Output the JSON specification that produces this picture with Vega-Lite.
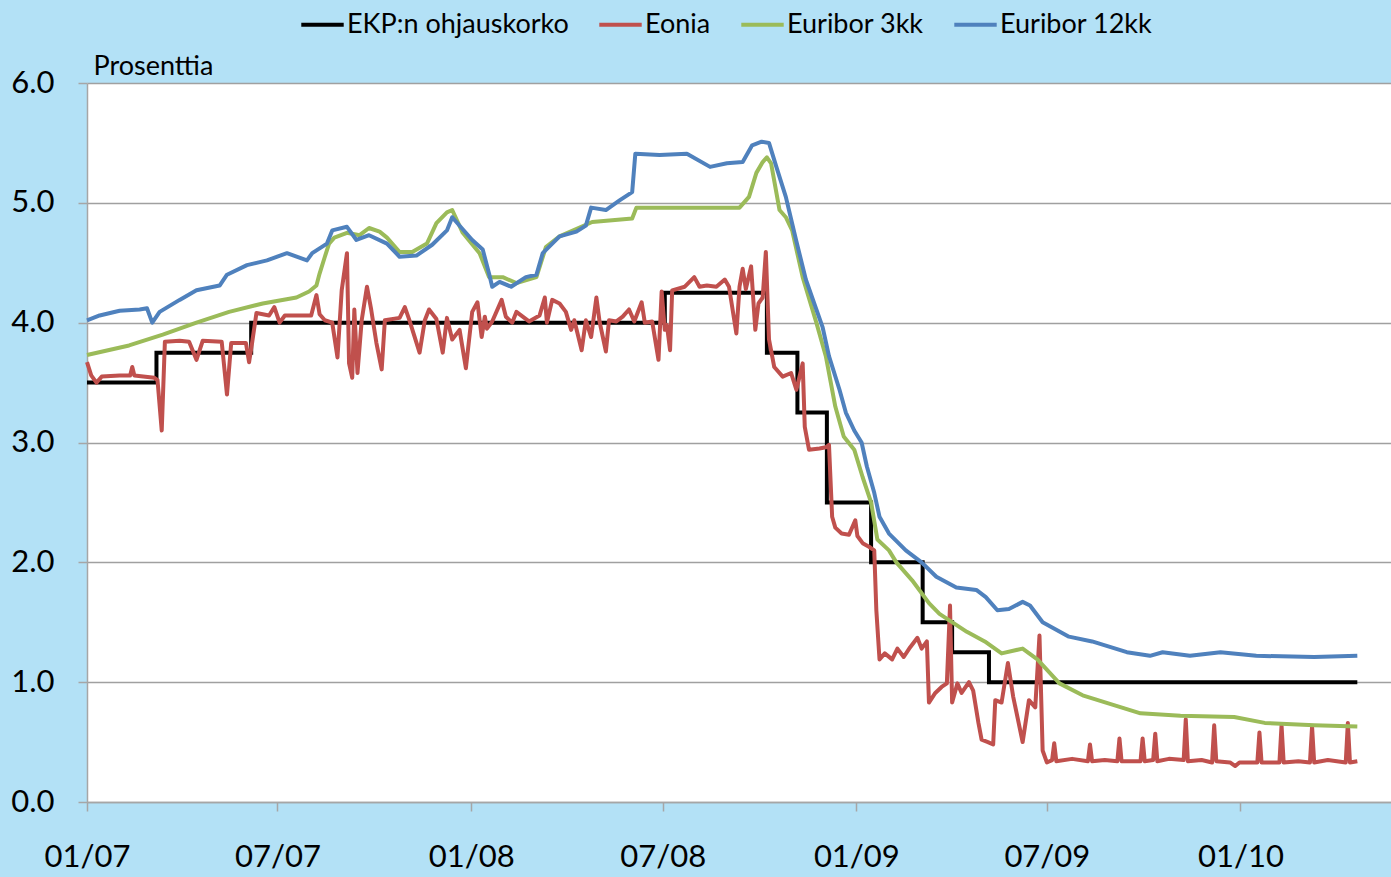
{
  "$schema": "https://vega.github.io/schema/vega-lite/v6.json",
  "width": 1304,
  "height": 719,
  "autosize": {"type": "none"},
  "padding": {"left": 87, "top": 83, "right": 0, "bottom": 75},
  "background": "#b3e1f6",
  "config": {
    "view": {"fill": "white", "stroke": null},
    "font": "Lato"
  },
  "datasets": {
    "rates": [
      {"d": "2007-01-01", "s": "EKP:n ohjauskorko", "v": 3.50},
      {"d": "2007-03-08", "s": "EKP:n ohjauskorko", "v": 3.75},
      {"d": "2007-06-06", "s": "EKP:n ohjauskorko", "v": 4.00},
      {"d": "2008-07-03", "s": "EKP:n ohjauskorko", "v": 4.25},
      {"d": "2008-10-08", "s": "EKP:n ohjauskorko", "v": 3.75},
      {"d": "2008-11-06", "s": "EKP:n ohjauskorko", "v": 3.25},
      {"d": "2008-12-04", "s": "EKP:n ohjauskorko", "v": 2.50},
      {"d": "2009-01-15", "s": "EKP:n ohjauskorko", "v": 2.00},
      {"d": "2009-03-05", "s": "EKP:n ohjauskorko", "v": 1.50},
      {"d": "2009-04-02", "s": "EKP:n ohjauskorko", "v": 1.25},
      {"d": "2009-05-07", "s": "EKP:n ohjauskorko", "v": 1.00},
      {"d": "2010-04-22", "s": "EKP:n ohjauskorko", "v": 1.00},

      {"d": "2007-01-01", "s": "Eonia", "v": 3.67},
      {"d": "2007-01-05", "s": "Eonia", "v": 3.56},
      {"d": "2007-01-10", "s": "Eonia", "v": 3.50},
      {"d": "2007-01-15", "s": "Eonia", "v": 3.55},
      {"d": "2007-02-01", "s": "Eonia", "v": 3.56},
      {"d": "2007-02-11", "s": "Eonia", "v": 3.56},
      {"d": "2007-02-13", "s": "Eonia", "v": 3.63},
      {"d": "2007-02-15", "s": "Eonia", "v": 3.56},
      {"d": "2007-03-06", "s": "Eonia", "v": 3.54},
      {"d": "2007-03-09", "s": "Eonia", "v": 3.52},
      {"d": "2007-03-13", "s": "Eonia", "v": 3.10},
      {"d": "2007-03-16", "s": "Eonia", "v": 3.84},
      {"d": "2007-03-30", "s": "Eonia", "v": 3.85},
      {"d": "2007-04-08", "s": "Eonia", "v": 3.84},
      {"d": "2007-04-15", "s": "Eonia", "v": 3.69},
      {"d": "2007-04-21", "s": "Eonia", "v": 3.85},
      {"d": "2007-05-09", "s": "Eonia", "v": 3.84},
      {"d": "2007-05-14", "s": "Eonia", "v": 3.40},
      {"d": "2007-05-18", "s": "Eonia", "v": 3.83},
      {"d": "2007-06-01", "s": "Eonia", "v": 3.83},
      {"d": "2007-06-04", "s": "Eonia", "v": 3.67},
      {"d": "2007-06-07", "s": "Eonia", "v": 3.84},
      {"d": "2007-06-11", "s": "Eonia", "v": 4.08},
      {"d": "2007-06-23", "s": "Eonia", "v": 4.06},
      {"d": "2007-06-28", "s": "Eonia", "v": 4.13},
      {"d": "2007-07-03", "s": "Eonia", "v": 4.00},
      {"d": "2007-07-08", "s": "Eonia", "v": 4.06},
      {"d": "2007-08-02", "s": "Eonia", "v": 4.06},
      {"d": "2007-08-07", "s": "Eonia", "v": 4.23},
      {"d": "2007-08-10", "s": "Eonia", "v": 4.07},
      {"d": "2007-08-15", "s": "Eonia", "v": 4.02},
      {"d": "2007-08-22", "s": "Eonia", "v": 4.00},
      {"d": "2007-08-27", "s": "Eonia", "v": 3.71},
      {"d": "2007-08-31", "s": "Eonia", "v": 4.27},
      {"d": "2007-09-05", "s": "Eonia", "v": 4.58},
      {"d": "2007-09-07", "s": "Eonia", "v": 3.66},
      {"d": "2007-09-10", "s": "Eonia", "v": 3.54},
      {"d": "2007-09-12", "s": "Eonia", "v": 4.11},
      {"d": "2007-09-15", "s": "Eonia", "v": 3.58},
      {"d": "2007-09-19", "s": "Eonia", "v": 4.02},
      {"d": "2007-09-24", "s": "Eonia", "v": 4.30},
      {"d": "2007-09-28", "s": "Eonia", "v": 4.11},
      {"d": "2007-10-03", "s": "Eonia", "v": 3.83},
      {"d": "2007-10-08", "s": "Eonia", "v": 3.61},
      {"d": "2007-10-11", "s": "Eonia", "v": 4.02},
      {"d": "2007-10-25", "s": "Eonia", "v": 4.04},
      {"d": "2007-10-30", "s": "Eonia", "v": 4.13},
      {"d": "2007-11-03", "s": "Eonia", "v": 4.03},
      {"d": "2007-11-13", "s": "Eonia", "v": 3.75},
      {"d": "2007-11-18", "s": "Eonia", "v": 4.02},
      {"d": "2007-11-22", "s": "Eonia", "v": 4.11},
      {"d": "2007-11-29", "s": "Eonia", "v": 4.03},
      {"d": "2007-12-05", "s": "Eonia", "v": 3.75},
      {"d": "2007-12-09", "s": "Eonia", "v": 4.04},
      {"d": "2007-12-14", "s": "Eonia", "v": 3.86},
      {"d": "2007-12-21", "s": "Eonia", "v": 3.94},
      {"d": "2007-12-27", "s": "Eonia", "v": 3.62},
      {"d": "2008-01-02", "s": "Eonia", "v": 4.09},
      {"d": "2008-01-07", "s": "Eonia", "v": 4.17},
      {"d": "2008-01-11", "s": "Eonia", "v": 3.88},
      {"d": "2008-01-14", "s": "Eonia", "v": 4.05},
      {"d": "2008-01-16", "s": "Eonia", "v": 3.95},
      {"d": "2008-01-21", "s": "Eonia", "v": 4.01},
      {"d": "2008-01-30", "s": "Eonia", "v": 4.19},
      {"d": "2008-02-03", "s": "Eonia", "v": 4.05},
      {"d": "2008-02-09", "s": "Eonia", "v": 4.00},
      {"d": "2008-02-13", "s": "Eonia", "v": 4.09},
      {"d": "2008-02-25", "s": "Eonia", "v": 4.01},
      {"d": "2008-03-06", "s": "Eonia", "v": 4.06},
      {"d": "2008-03-11", "s": "Eonia", "v": 4.21},
      {"d": "2008-03-13", "s": "Eonia", "v": 4.00},
      {"d": "2008-03-18", "s": "Eonia", "v": 4.19},
      {"d": "2008-03-25", "s": "Eonia", "v": 4.16},
      {"d": "2008-03-31", "s": "Eonia", "v": 4.09},
      {"d": "2008-04-05", "s": "Eonia", "v": 3.94},
      {"d": "2008-04-08", "s": "Eonia", "v": 4.02},
      {"d": "2008-04-15", "s": "Eonia", "v": 3.77},
      {"d": "2008-04-19", "s": "Eonia", "v": 4.02},
      {"d": "2008-04-24", "s": "Eonia", "v": 3.88},
      {"d": "2008-04-29", "s": "Eonia", "v": 4.21},
      {"d": "2008-05-02", "s": "Eonia", "v": 4.01},
      {"d": "2008-05-08", "s": "Eonia", "v": 3.76},
      {"d": "2008-05-11", "s": "Eonia", "v": 4.02},
      {"d": "2008-05-18", "s": "Eonia", "v": 4.01},
      {"d": "2008-05-24", "s": "Eonia", "v": 4.05},
      {"d": "2008-05-30", "s": "Eonia", "v": 4.11},
      {"d": "2008-06-04", "s": "Eonia", "v": 4.01},
      {"d": "2008-06-11", "s": "Eonia", "v": 4.17},
      {"d": "2008-06-14", "s": "Eonia", "v": 4.00},
      {"d": "2008-06-21", "s": "Eonia", "v": 4.01},
      {"d": "2008-06-27", "s": "Eonia", "v": 3.69},
      {"d": "2008-06-30", "s": "Eonia", "v": 4.26},
      {"d": "2008-07-03", "s": "Eonia", "v": 3.94},
      {"d": "2008-07-05", "s": "Eonia", "v": 3.98},
      {"d": "2008-07-08", "s": "Eonia", "v": 3.77},
      {"d": "2008-07-10", "s": "Eonia", "v": 4.27},
      {"d": "2008-07-22", "s": "Eonia", "v": 4.30},
      {"d": "2008-07-31", "s": "Eonia", "v": 4.38},
      {"d": "2008-08-05", "s": "Eonia", "v": 4.30},
      {"d": "2008-08-12", "s": "Eonia", "v": 4.31},
      {"d": "2008-08-21", "s": "Eonia", "v": 4.30},
      {"d": "2008-08-29", "s": "Eonia", "v": 4.36},
      {"d": "2008-09-02", "s": "Eonia", "v": 4.30},
      {"d": "2008-09-09", "s": "Eonia", "v": 3.91},
      {"d": "2008-09-12", "s": "Eonia", "v": 4.30},
      {"d": "2008-09-15", "s": "Eonia", "v": 4.45},
      {"d": "2008-09-18", "s": "Eonia", "v": 4.28},
      {"d": "2008-09-23", "s": "Eonia", "v": 4.47},
      {"d": "2008-09-27", "s": "Eonia", "v": 3.94},
      {"d": "2008-09-30", "s": "Eonia", "v": 4.16},
      {"d": "2008-10-04", "s": "Eonia", "v": 4.21},
      {"d": "2008-10-07", "s": "Eonia", "v": 4.59},
      {"d": "2008-10-10", "s": "Eonia", "v": 3.86},
      {"d": "2008-10-15", "s": "Eonia", "v": 3.63},
      {"d": "2008-10-23", "s": "Eonia", "v": 3.55},
      {"d": "2008-10-31", "s": "Eonia", "v": 3.58},
      {"d": "2008-11-05", "s": "Eonia", "v": 3.44},
      {"d": "2008-11-11", "s": "Eonia", "v": 3.66},
      {"d": "2008-11-13", "s": "Eonia", "v": 3.13},
      {"d": "2008-11-17", "s": "Eonia", "v": 2.94},
      {"d": "2008-11-27", "s": "Eonia", "v": 2.95},
      {"d": "2008-12-03", "s": "Eonia", "v": 2.96},
      {"d": "2008-12-06", "s": "Eonia", "v": 2.98},
      {"d": "2008-12-09", "s": "Eonia", "v": 2.38},
      {"d": "2008-12-12", "s": "Eonia", "v": 2.29},
      {"d": "2008-12-18", "s": "Eonia", "v": 2.24},
      {"d": "2008-12-25", "s": "Eonia", "v": 2.23},
      {"d": "2008-12-31", "s": "Eonia", "v": 2.35},
      {"d": "2009-01-02", "s": "Eonia", "v": 2.22},
      {"d": "2009-01-07", "s": "Eonia", "v": 2.16},
      {"d": "2009-01-13", "s": "Eonia", "v": 2.13},
      {"d": "2009-01-18", "s": "Eonia", "v": 2.10},
      {"d": "2009-01-20", "s": "Eonia", "v": 1.60},
      {"d": "2009-01-23", "s": "Eonia", "v": 1.19},
      {"d": "2009-01-28", "s": "Eonia", "v": 1.24},
      {"d": "2009-02-04", "s": "Eonia", "v": 1.19},
      {"d": "2009-02-09", "s": "Eonia", "v": 1.28},
      {"d": "2009-02-15", "s": "Eonia", "v": 1.21},
      {"d": "2009-02-21", "s": "Eonia", "v": 1.29},
      {"d": "2009-02-28", "s": "Eonia", "v": 1.37},
      {"d": "2009-03-04", "s": "Eonia", "v": 1.28},
      {"d": "2009-03-09", "s": "Eonia", "v": 1.34},
      {"d": "2009-03-11", "s": "Eonia", "v": 0.83},
      {"d": "2009-03-17", "s": "Eonia", "v": 0.91},
      {"d": "2009-03-23", "s": "Eonia", "v": 0.96},
      {"d": "2009-03-28", "s": "Eonia", "v": 0.99},
      {"d": "2009-03-31", "s": "Eonia", "v": 1.64},
      {"d": "2009-04-02", "s": "Eonia", "v": 0.83},
      {"d": "2009-04-07", "s": "Eonia", "v": 0.99},
      {"d": "2009-04-11", "s": "Eonia", "v": 0.91},
      {"d": "2009-04-18", "s": "Eonia", "v": 1.00},
      {"d": "2009-04-22", "s": "Eonia", "v": 0.93},
      {"d": "2009-04-27", "s": "Eonia", "v": 0.66},
      {"d": "2009-04-30", "s": "Eonia", "v": 0.52},
      {"d": "2009-05-06", "s": "Eonia", "v": 0.50},
      {"d": "2009-05-11", "s": "Eonia", "v": 0.48},
      {"d": "2009-05-13", "s": "Eonia", "v": 0.85},
      {"d": "2009-05-19", "s": "Eonia", "v": 0.83},
      {"d": "2009-05-25", "s": "Eonia", "v": 1.16},
      {"d": "2009-05-30", "s": "Eonia", "v": 0.88},
      {"d": "2009-06-08", "s": "Eonia", "v": 0.50},
      {"d": "2009-06-14", "s": "Eonia", "v": 0.85},
      {"d": "2009-06-20", "s": "Eonia", "v": 0.79},
      {"d": "2009-06-24", "s": "Eonia", "v": 1.39},
      {"d": "2009-06-27", "s": "Eonia", "v": 0.43},
      {"d": "2009-07-01", "s": "Eonia", "v": 0.33},
      {"d": "2009-07-06", "s": "Eonia", "v": 0.35},
      {"d": "2009-07-08", "s": "Eonia", "v": 0.49},
      {"d": "2009-07-10", "s": "Eonia", "v": 0.34},
      {"d": "2009-07-25", "s": "Eonia", "v": 0.36},
      {"d": "2009-08-09", "s": "Eonia", "v": 0.34},
      {"d": "2009-08-11", "s": "Eonia", "v": 0.48},
      {"d": "2009-08-13", "s": "Eonia", "v": 0.34},
      {"d": "2009-08-25", "s": "Eonia", "v": 0.35},
      {"d": "2009-09-06", "s": "Eonia", "v": 0.34},
      {"d": "2009-09-08", "s": "Eonia", "v": 0.53},
      {"d": "2009-09-10", "s": "Eonia", "v": 0.34},
      {"d": "2009-09-28", "s": "Eonia", "v": 0.34},
      {"d": "2009-09-30", "s": "Eonia", "v": 0.53},
      {"d": "2009-10-02", "s": "Eonia", "v": 0.34},
      {"d": "2009-10-10", "s": "Eonia", "v": 0.35},
      {"d": "2009-10-12", "s": "Eonia", "v": 0.57},
      {"d": "2009-10-14", "s": "Eonia", "v": 0.34},
      {"d": "2009-10-25", "s": "Eonia", "v": 0.36},
      {"d": "2009-11-08", "s": "Eonia", "v": 0.35},
      {"d": "2009-11-10", "s": "Eonia", "v": 0.69},
      {"d": "2009-11-12", "s": "Eonia", "v": 0.34},
      {"d": "2009-11-25", "s": "Eonia", "v": 0.35},
      {"d": "2009-12-05", "s": "Eonia", "v": 0.33},
      {"d": "2009-12-07", "s": "Eonia", "v": 0.64},
      {"d": "2009-12-09", "s": "Eonia", "v": 0.34},
      {"d": "2009-12-22", "s": "Eonia", "v": 0.33},
      {"d": "2009-12-27", "s": "Eonia", "v": 0.30},
      {"d": "2009-12-31", "s": "Eonia", "v": 0.33},
      {"d": "2010-01-17", "s": "Eonia", "v": 0.33},
      {"d": "2010-01-19", "s": "Eonia", "v": 0.58},
      {"d": "2010-01-21", "s": "Eonia", "v": 0.33},
      {"d": "2010-02-07", "s": "Eonia", "v": 0.33},
      {"d": "2010-02-09", "s": "Eonia", "v": 0.64},
      {"d": "2010-02-11", "s": "Eonia", "v": 0.33},
      {"d": "2010-02-25", "s": "Eonia", "v": 0.34},
      {"d": "2010-03-08", "s": "Eonia", "v": 0.33},
      {"d": "2010-03-10", "s": "Eonia", "v": 0.63},
      {"d": "2010-03-12", "s": "Eonia", "v": 0.33},
      {"d": "2010-03-25", "s": "Eonia", "v": 0.35},
      {"d": "2010-04-11", "s": "Eonia", "v": 0.33},
      {"d": "2010-04-13", "s": "Eonia", "v": 0.66},
      {"d": "2010-04-15", "s": "Eonia", "v": 0.33},
      {"d": "2010-04-22", "s": "Eonia", "v": 0.34},

      {"d": "2007-01-01", "s": "Euribor 3kk", "v": 3.73},
      {"d": "2007-02-10", "s": "Euribor 3kk", "v": 3.81},
      {"d": "2007-03-14", "s": "Euribor 3kk", "v": 3.90},
      {"d": "2007-04-15", "s": "Euribor 3kk", "v": 4.00},
      {"d": "2007-05-16", "s": "Euribor 3kk", "v": 4.09},
      {"d": "2007-06-17", "s": "Euribor 3kk", "v": 4.16},
      {"d": "2007-07-19", "s": "Euribor 3kk", "v": 4.21},
      {"d": "2007-07-31", "s": "Euribor 3kk", "v": 4.26},
      {"d": "2007-08-07", "s": "Euribor 3kk", "v": 4.31},
      {"d": "2007-08-10", "s": "Euribor 3kk", "v": 4.41},
      {"d": "2007-08-15", "s": "Euribor 3kk", "v": 4.55},
      {"d": "2007-08-19", "s": "Euribor 3kk", "v": 4.66},
      {"d": "2007-08-24", "s": "Euribor 3kk", "v": 4.71},
      {"d": "2007-09-05", "s": "Euribor 3kk", "v": 4.75},
      {"d": "2007-09-17", "s": "Euribor 3kk", "v": 4.73},
      {"d": "2007-09-26", "s": "Euribor 3kk", "v": 4.79},
      {"d": "2007-10-06", "s": "Euribor 3kk", "v": 4.76},
      {"d": "2007-10-13", "s": "Euribor 3kk", "v": 4.71},
      {"d": "2007-10-25", "s": "Euribor 3kk", "v": 4.59},
      {"d": "2007-11-06", "s": "Euribor 3kk", "v": 4.59},
      {"d": "2007-11-20", "s": "Euribor 3kk", "v": 4.66},
      {"d": "2007-11-29", "s": "Euribor 3kk", "v": 4.83},
      {"d": "2007-12-09", "s": "Euribor 3kk", "v": 4.92},
      {"d": "2007-12-14", "s": "Euribor 3kk", "v": 4.94},
      {"d": "2007-12-24", "s": "Euribor 3kk", "v": 4.75},
      {"d": "2008-01-09", "s": "Euribor 3kk", "v": 4.58},
      {"d": "2008-01-18", "s": "Euribor 3kk", "v": 4.38},
      {"d": "2008-01-31", "s": "Euribor 3kk", "v": 4.38},
      {"d": "2008-02-13", "s": "Euribor 3kk", "v": 4.33},
      {"d": "2008-03-03", "s": "Euribor 3kk", "v": 4.38},
      {"d": "2008-03-12", "s": "Euribor 3kk", "v": 4.63},
      {"d": "2008-03-25", "s": "Euribor 3kk", "v": 4.72},
      {"d": "2008-04-25", "s": "Euribor 3kk", "v": 4.84},
      {"d": "2008-06-02", "s": "Euribor 3kk", "v": 4.87},
      {"d": "2008-06-06", "s": "Euribor 3kk", "v": 4.96},
      {"d": "2008-07-29", "s": "Euribor 3kk", "v": 4.96},
      {"d": "2008-09-12", "s": "Euribor 3kk", "v": 4.96},
      {"d": "2008-09-21", "s": "Euribor 3kk", "v": 5.05},
      {"d": "2008-09-28", "s": "Euribor 3kk", "v": 5.25},
      {"d": "2008-10-04", "s": "Euribor 3kk", "v": 5.34},
      {"d": "2008-10-08", "s": "Euribor 3kk", "v": 5.38},
      {"d": "2008-10-12", "s": "Euribor 3kk", "v": 5.33},
      {"d": "2008-10-20", "s": "Euribor 3kk", "v": 4.94},
      {"d": "2008-10-26", "s": "Euribor 3kk", "v": 4.88},
      {"d": "2008-11-01", "s": "Euribor 3kk", "v": 4.77},
      {"d": "2008-11-11", "s": "Euribor 3kk", "v": 4.38},
      {"d": "2008-11-24", "s": "Euribor 3kk", "v": 4.00},
      {"d": "2008-12-03", "s": "Euribor 3kk", "v": 3.72},
      {"d": "2008-12-12", "s": "Euribor 3kk", "v": 3.30},
      {"d": "2008-12-20", "s": "Euribor 3kk", "v": 3.05},
      {"d": "2008-12-30", "s": "Euribor 3kk", "v": 2.94},
      {"d": "2009-01-07", "s": "Euribor 3kk", "v": 2.71},
      {"d": "2009-01-15", "s": "Euribor 3kk", "v": 2.50},
      {"d": "2009-01-21", "s": "Euribor 3kk", "v": 2.19},
      {"d": "2009-02-01", "s": "Euribor 3kk", "v": 2.10},
      {"d": "2009-02-08", "s": "Euribor 3kk", "v": 2.00},
      {"d": "2009-02-23", "s": "Euribor 3kk", "v": 1.85},
      {"d": "2009-03-11", "s": "Euribor 3kk", "v": 1.66},
      {"d": "2009-03-21", "s": "Euribor 3kk", "v": 1.57},
      {"d": "2009-04-16", "s": "Euribor 3kk", "v": 1.42},
      {"d": "2009-05-03", "s": "Euribor 3kk", "v": 1.34},
      {"d": "2009-05-19", "s": "Euribor 3kk", "v": 1.24},
      {"d": "2009-06-08", "s": "Euribor 3kk", "v": 1.28},
      {"d": "2009-06-22", "s": "Euribor 3kk", "v": 1.19},
      {"d": "2009-07-13", "s": "Euribor 3kk", "v": 0.99},
      {"d": "2009-08-04", "s": "Euribor 3kk", "v": 0.89},
      {"d": "2009-09-02", "s": "Euribor 3kk", "v": 0.81},
      {"d": "2009-09-28", "s": "Euribor 3kk", "v": 0.74},
      {"d": "2009-11-05", "s": "Euribor 3kk", "v": 0.72},
      {"d": "2009-12-26", "s": "Euribor 3kk", "v": 0.71},
      {"d": "2010-01-24", "s": "Euribor 3kk", "v": 0.66},
      {"d": "2010-03-12", "s": "Euribor 3kk", "v": 0.64},
      {"d": "2010-04-22", "s": "Euribor 3kk", "v": 0.63},

      {"d": "2007-01-01", "s": "Euribor 12kk", "v": 4.02},
      {"d": "2007-01-13", "s": "Euribor 12kk", "v": 4.06},
      {"d": "2007-02-01", "s": "Euribor 12kk", "v": 4.10},
      {"d": "2007-02-20", "s": "Euribor 12kk", "v": 4.11},
      {"d": "2007-02-27", "s": "Euribor 12kk", "v": 4.12},
      {"d": "2007-03-04", "s": "Euribor 12kk", "v": 4.00},
      {"d": "2007-03-11", "s": "Euribor 12kk", "v": 4.09},
      {"d": "2007-03-30", "s": "Euribor 12kk", "v": 4.19},
      {"d": "2007-04-15", "s": "Euribor 12kk", "v": 4.27},
      {"d": "2007-05-07", "s": "Euribor 12kk", "v": 4.31},
      {"d": "2007-05-14", "s": "Euribor 12kk", "v": 4.40},
      {"d": "2007-06-02", "s": "Euribor 12kk", "v": 4.48},
      {"d": "2007-06-21", "s": "Euribor 12kk", "v": 4.52},
      {"d": "2007-07-10", "s": "Euribor 12kk", "v": 4.58},
      {"d": "2007-07-29", "s": "Euribor 12kk", "v": 4.52},
      {"d": "2007-08-03", "s": "Euribor 12kk", "v": 4.58},
      {"d": "2007-08-17", "s": "Euribor 12kk", "v": 4.66},
      {"d": "2007-08-22", "s": "Euribor 12kk", "v": 4.77},
      {"d": "2007-09-05", "s": "Euribor 12kk", "v": 4.80},
      {"d": "2007-09-14", "s": "Euribor 12kk", "v": 4.69},
      {"d": "2007-09-26", "s": "Euribor 12kk", "v": 4.73},
      {"d": "2007-10-13", "s": "Euribor 12kk", "v": 4.66},
      {"d": "2007-10-25", "s": "Euribor 12kk", "v": 4.55},
      {"d": "2007-11-10", "s": "Euribor 12kk", "v": 4.56},
      {"d": "2007-11-25", "s": "Euribor 12kk", "v": 4.65},
      {"d": "2007-12-09", "s": "Euribor 12kk", "v": 4.77},
      {"d": "2007-12-14", "s": "Euribor 12kk", "v": 4.88},
      {"d": "2007-12-24", "s": "Euribor 12kk", "v": 4.78},
      {"d": "2008-01-02", "s": "Euribor 12kk", "v": 4.69},
      {"d": "2008-01-12", "s": "Euribor 12kk", "v": 4.61},
      {"d": "2008-01-18", "s": "Euribor 12kk", "v": 4.41},
      {"d": "2008-01-21", "s": "Euribor 12kk", "v": 4.30},
      {"d": "2008-01-28", "s": "Euribor 12kk", "v": 4.34},
      {"d": "2008-02-08", "s": "Euribor 12kk", "v": 4.30},
      {"d": "2008-02-22", "s": "Euribor 12kk", "v": 4.38},
      {"d": "2008-03-03", "s": "Euribor 12kk", "v": 4.40},
      {"d": "2008-03-09", "s": "Euribor 12kk", "v": 4.58},
      {"d": "2008-03-25", "s": "Euribor 12kk", "v": 4.72},
      {"d": "2008-04-10", "s": "Euribor 12kk", "v": 4.76},
      {"d": "2008-04-19", "s": "Euribor 12kk", "v": 4.81},
      {"d": "2008-04-24", "s": "Euribor 12kk", "v": 4.96},
      {"d": "2008-05-08", "s": "Euribor 12kk", "v": 4.94},
      {"d": "2008-05-21", "s": "Euribor 12kk", "v": 5.02},
      {"d": "2008-06-02", "s": "Euribor 12kk", "v": 5.09},
      {"d": "2008-06-05", "s": "Euribor 12kk", "v": 5.41},
      {"d": "2008-06-28", "s": "Euribor 12kk", "v": 5.40},
      {"d": "2008-07-24", "s": "Euribor 12kk", "v": 5.41},
      {"d": "2008-08-15", "s": "Euribor 12kk", "v": 5.30},
      {"d": "2008-08-31", "s": "Euribor 12kk", "v": 5.33},
      {"d": "2008-09-15", "s": "Euribor 12kk", "v": 5.34},
      {"d": "2008-09-24", "s": "Euribor 12kk", "v": 5.48},
      {"d": "2008-10-03", "s": "Euribor 12kk", "v": 5.51},
      {"d": "2008-10-10", "s": "Euribor 12kk", "v": 5.50},
      {"d": "2008-10-17", "s": "Euribor 12kk", "v": 5.30},
      {"d": "2008-10-26", "s": "Euribor 12kk", "v": 5.05},
      {"d": "2008-11-05", "s": "Euribor 12kk", "v": 4.68},
      {"d": "2008-11-14", "s": "Euribor 12kk", "v": 4.36},
      {"d": "2008-11-24", "s": "Euribor 12kk", "v": 4.11},
      {"d": "2008-11-30", "s": "Euribor 12kk", "v": 3.96},
      {"d": "2008-12-06", "s": "Euribor 12kk", "v": 3.72},
      {"d": "2008-12-16", "s": "Euribor 12kk", "v": 3.44},
      {"d": "2008-12-22", "s": "Euribor 12kk", "v": 3.25},
      {"d": "2008-12-30", "s": "Euribor 12kk", "v": 3.10},
      {"d": "2009-01-06", "s": "Euribor 12kk", "v": 3.00},
      {"d": "2009-01-11", "s": "Euribor 12kk", "v": 2.80},
      {"d": "2009-01-18", "s": "Euribor 12kk", "v": 2.58},
      {"d": "2009-01-23", "s": "Euribor 12kk", "v": 2.38},
      {"d": "2009-02-01", "s": "Euribor 12kk", "v": 2.24},
      {"d": "2009-02-17", "s": "Euribor 12kk", "v": 2.10},
      {"d": "2009-03-04", "s": "Euribor 12kk", "v": 2.00},
      {"d": "2009-03-18", "s": "Euribor 12kk", "v": 1.88},
      {"d": "2009-04-06", "s": "Euribor 12kk", "v": 1.79},
      {"d": "2009-04-25", "s": "Euribor 12kk", "v": 1.77},
      {"d": "2009-05-04", "s": "Euribor 12kk", "v": 1.71},
      {"d": "2009-05-15", "s": "Euribor 12kk", "v": 1.60},
      {"d": "2009-05-26", "s": "Euribor 12kk", "v": 1.61},
      {"d": "2009-06-08", "s": "Euribor 12kk", "v": 1.67},
      {"d": "2009-06-15", "s": "Euribor 12kk", "v": 1.64},
      {"d": "2009-06-27", "s": "Euribor 12kk", "v": 1.50},
      {"d": "2009-07-22", "s": "Euribor 12kk", "v": 1.38},
      {"d": "2009-08-13", "s": "Euribor 12kk", "v": 1.34},
      {"d": "2009-09-15", "s": "Euribor 12kk", "v": 1.25},
      {"d": "2009-10-07", "s": "Euribor 12kk", "v": 1.22},
      {"d": "2009-10-19", "s": "Euribor 12kk", "v": 1.25},
      {"d": "2009-11-14", "s": "Euribor 12kk", "v": 1.22},
      {"d": "2009-12-13", "s": "Euribor 12kk", "v": 1.25},
      {"d": "2010-01-16", "s": "Euribor 12kk", "v": 1.22},
      {"d": "2010-03-12", "s": "Euribor 12kk", "v": 1.21},
      {"d": "2010-04-22", "s": "Euribor 12kk", "v": 1.22}
    ]
  },
  "data": {"name": "rates"},
  "encoding": {
    "x": {
      "field": "d",
      "type": "temporal",
      "scale": {
        "type": "utc",
        "domain": [
          {"year": 2007, "month": 1, "date": 1, "utc": true},
          {"year": 2010, "month": 5, "date": 24, "utc": true}
        ]
      },
      "axis": {
        "title": null,
        "values": [
          {"year": 2007, "month": 1, "date": 1, "utc": true},
          {"year": 2007, "month": 7, "date": 1, "utc": true},
          {"year": 2008, "month": 1, "date": 1, "utc": true},
          {"year": 2008, "month": 7, "date": 1, "utc": true},
          {"year": 2009, "month": 1, "date": 1, "utc": true},
          {"year": 2009, "month": 7, "date": 1, "utc": true},
          {"year": 2010, "month": 1, "date": 1, "utc": true}
        ],
        "labelExpr": "utcFormat(datum.value, '%m/%y')",
        "grid": false,
        "domainColor": "#a6a6a6",
        "domainWidth": 1.5,
        "tickColor": "#a6a6a6",
        "tickWidth": 1.5,
        "tickSize": 9,
        "labelFontSize": 31,
        "labelColor": "#000000",
        "labelPadding": 31,
        "labelFlush": false,
        "labelOverlap": false,
        "labelBound": false
      }
    },
    "y": {
      "field": "v",
      "type": "quantitative",
      "scale": {"domain": [0, 6], "nice": false, "zero": true},
      "axis": {
        "title": "Prosenttia",
        "titleAngle": 0,
        "titleAlign": "left",
        "titleBaseline": "alphabetic",
        "titleX": 6,
        "titleY": -9,
        "titleFontSize": 27,
        "titleFontWeight": "normal",
        "titleColor": "#000000",
        "values": [0, 1, 2, 3, 4, 5, 6],
        "format": ".1f",
        "grid": true,
        "gridColor": "#a0a0a0",
        "gridWidth": 1.5,
        "domainColor": "#a6a6a6",
        "domainWidth": 1.5,
        "tickColor": "#a6a6a6",
        "tickWidth": 1.5,
        "tickSize": 9,
        "labelFontSize": 31,
        "labelColor": "#000000",
        "labelPadding": 24
      }
    },
    "color": {
      "field": "s",
      "type": "nominal",
      "scale": {
        "domain": ["EKP:n ohjauskorko", "Eonia", "Euribor 3kk", "Euribor 12kk"],
        "range": ["#000000", "#c0504d", "#9bbb59", "#4f81bd"]
      },
      "legend": {
        "title": null,
        "orient": "none",
        "direction": "horizontal",
        "legendX": 212,
        "legendY": -82,
        "symbolType": "stroke",
        "symbolSize": 1800,
        "symbolStrokeWidth": 4,
        "labelFontSize": 27,
        "labelColor": "#000000",
        "labelOffset": 1,
        "labelLimit": 400,
        "columnPadding": 22,
        "padding": 0
      }
    }
  },
  "layer": [
    {
      "transform": [{"filter": "datum.s === 'EKP:n ohjauskorko'"}],
      "mark": {"type": "line", "interpolate": "step-after", "strokeWidth": 4}
    },
    {
      "transform": [{"filter": "datum.s === 'Eonia'"}],
      "mark": {"type": "line", "strokeWidth": 4, "strokeJoin": "round"}
    },
    {
      "transform": [{"filter": "datum.s === 'Euribor 3kk'"}],
      "mark": {"type": "line", "strokeWidth": 4, "strokeJoin": "round"}
    },
    {
      "transform": [{"filter": "datum.s === 'Euribor 12kk'"}],
      "mark": {"type": "line", "strokeWidth": 4, "strokeJoin": "round"}
    }
  ]
}
